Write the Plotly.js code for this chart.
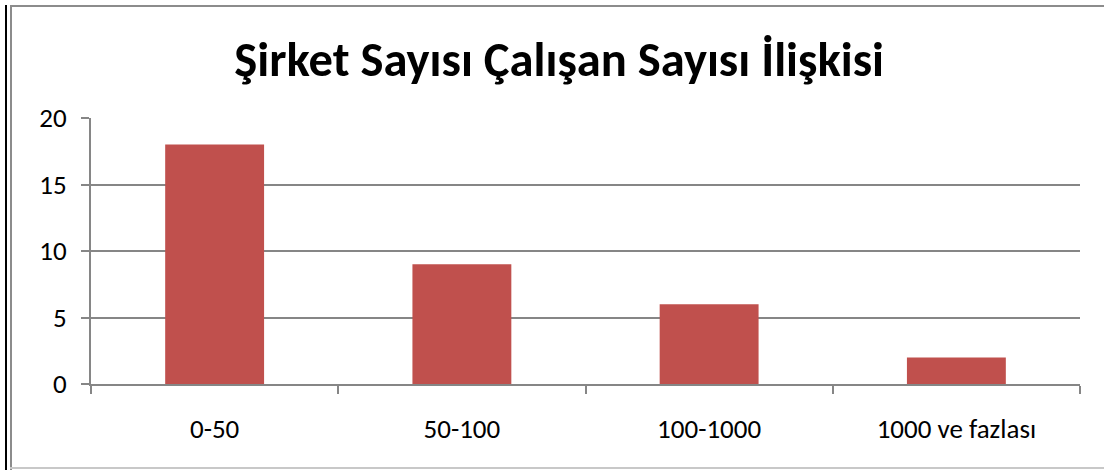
<!DOCTYPE html>
<html>
<head>
<meta charset="utf-8">
<script src="https://cdn.plot.ly/plotly-3.0.1.min.js"></script>
<style>
  html, body { margin: 0; padding: 0; background: #ffffff; }
  #wrap { position: relative; width: 1104px; height: 470px; overflow: hidden; }
  #chart { position: absolute; left: 0; top: 0; width: 1104px; height: 470px; }
  .b { position: absolute; pointer-events: none; }
</style>
</head>
<body>
<div id="wrap">
  <div id="chart"></div>
  <div class="b" style="left:5px; top:5px; width:2px; height:465px; background:#000;"></div>
  <div class="b" style="left:10px; top:5px; width:2px; height:465px; background:#8c8c8c;"></div>
  <div class="b" style="left:10px; top:5px; width:1094px; height:2px; background:#8c8c8c;"></div>
  <div class="b" style="left:10px; top:467px; width:1094px; height:2px; background:#c8c8c8;"></div>
</div>
<script>
const categories = ["0-50", "50-100", "100-1000", "1000 ve fazlası"];
const companyCounts = [18, 9, 6, 2];
const titleText = "Şirket Sayısı Çalışan Sayısı İlişkisi";
const yTicks = [0, 5, 10, 15, 20];

const trace = {
  type: "bar",
  x: categories,
  y: companyCounts,
  marker: { color: "#C0504D", line: { width: 0 } },
  hoverinfo: "x+y"
};

const layout = {
  width: 1104,
  height: 470,
  margin: { l: 91, r: 24, t: 118, b: 86, pad: 0 },
  paper_bgcolor: "rgba(0,0,0,0)",
  plot_bgcolor: "#ffffff",
  bargap: 0.6,
  showlegend: false,
  font: { family: "Carlito, Calibri, 'Noto Sans', sans-serif", color: "#000000", size: 27 },
  title: {
    text: "<b>" + titleText + "</b>",
    font: { family: "Carlito, Calibri, 'Noto Sans', sans-serif", size: 48.6, color: "#000000" },
    x: 0.5065, xanchor: "center", xref: "container",
    y: 62, yref: "container", yanchor: "middle"
  },
  xaxis: {
    type: "category",
    showline: true, linecolor: "#868686", linewidth: 2,
    ticks: "outside", tickson: "boundaries", ticklen: 8, tickcolor: "#868686", tickwidth: 2,
    showgrid: false,
    ticklabelstandoff: 20,
    tickfont: { size: 27 },
    fixedrange: true
  },
  yaxis: {
    range: [0, 20],
    tickvals: yTicks,
    showline: true, linecolor: "#868686", linewidth: 2,
    ticks: "outside", ticklen: 8, tickcolor: "#868686", tickwidth: 2,
    showgrid: true, gridcolor: "#868686", gridwidth: 2,
    zeroline: false,
    ticklabelstandoff: 9,
    tickfont: { size: 27 },
    fixedrange: true
  }
};

Plotly.newPlot("chart", [trace], layout, { displayModeBar: false, staticPlot: true });
</script>
</body>
</html>
